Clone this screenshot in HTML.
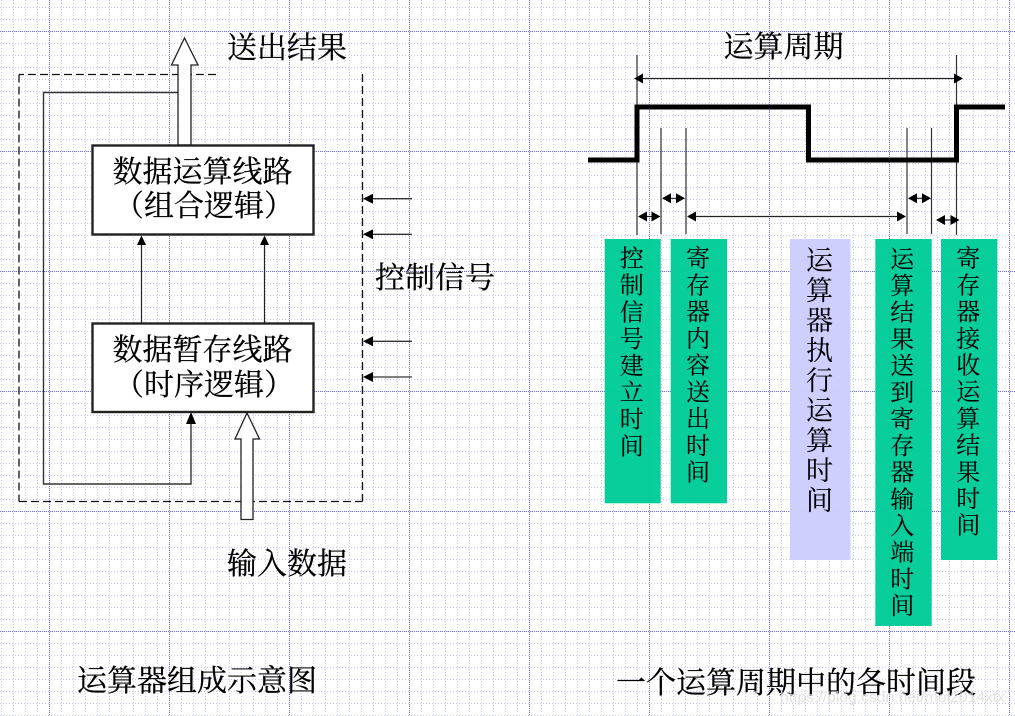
<!DOCTYPE html>
<html>
<head>
<meta charset="utf-8">
<style>
html,body{margin:0;padding:0;background:#fff;width:1015px;height:716px;overflow:hidden}
svg{display:block}
text{font-family:"Liberation Serif","Noto Serif CJK SC",serif;fill:#000;stroke:#000;stroke-width:.25}
.col text{stroke-width:.1}
</style>
</head>
<body>
<svg width="1015" height="716" viewBox="0 0 1015 716" xmlns="http://www.w3.org/2000/svg">
<defs>
<pattern id="minor" patternUnits="userSpaceOnUse" width="12" height="12">
<path d="M0 7.5H12M1.5 0V12" stroke="#c9c9e6" stroke-width="1" stroke-dasharray="1 2" fill="none"/>
</pattern>
<pattern id="major" patternUnits="userSpaceOnUse" width="120" height="120">
<path d="M0 31.5H120M49.5 0V120" stroke="#7272d4" stroke-width="1" stroke-dasharray="1 1" fill="none"/>
</pattern>
</defs>
<rect width="1015" height="716" fill="#fff"/>
<rect width="1015" height="716" fill="url(#minor)"/>
<rect width="1015" height="716" fill="url(#major)"/>

<!-- left diagram -->
<g fill="none" stroke="#111" stroke-width="1.3" stroke-dasharray="8 4">
<path d="M216 74.5H19"/>
<path d="M19 74.5V501.5"/>
<path d="M19 501.5H362.5"/>
<path d="M362.5 74V501.5"/>
</g>
<path d="M178 92.5H43.5V484H191V420" fill="none" stroke="#333" stroke-width="1.4"/>
<path d="M191 412L196 424H186Z" fill="#000"/>
<path d="M184.5 38L198 65H191V145H178V65H171.5Z" fill="#fff" stroke="#222" stroke-width="1.3"/>
<path d="M247 413L259.5 439H253V519.5H241V439H235Z" fill="#fff" stroke="#222" stroke-width="1.3"/>
<rect x="92.5" y="145.5" width="221" height="89" fill="#fff" stroke="#222" stroke-width="2.4"/>
<rect x="92.5" y="323.5" width="221" height="88.5" fill="#fff" stroke="#222" stroke-width="2.4"/>
<path d="M141.5 323V244M264.5 323V244" stroke="#222" stroke-width="1.2" fill="none"/>
<path d="M141.5 235.5L146 245H137Z M264.5 235.5L269 245H260Z" fill="#000"/>
<path d="M412 198.7H372M412 234.3H372M412 341.3H372M412 377H372" stroke="#333" stroke-width="1.3" fill="none"/>
<path d="M363 198.7L373 193.7V203.7Z M363 234.3L373 229.3V239.3Z M363 341.3L373 336.3V346.3Z M363 377L373 372V382Z" fill="#000"/>

<g font-size="30">
<text x="227" y="58">送出结果</text>
<text x="112.5" y="182">数据运算线路</text>
<text x="114" y="216">（组合逻辑）</text>
<text x="112.5" y="360">数据暂存线路</text>
<text x="114" y="395">（时序逻辑）</text>
<text x="375" y="288">控制信号</text>
<text x="227" y="574">输入数据</text>
<text x="77" y="691">运算器组成示意图</text>
<text x="723.5" y="57">运算周期</text>
<text x="616" y="693">一个运算周期中的各时间段</text>
</g>

<!-- timing -->
<path d="M637 55V235M956.5 55V235M661 128V234M686 128V234M907 128V234M931.5 128V234" stroke="#333" stroke-width="1.2" fill="none"/>
<path d="M588 160H637V107H808.5V160H956.5V107H1005" fill="none" stroke="#000" stroke-width="5"/>
<g stroke="#222" stroke-width="1.2" fill="none">
<path d="M640 78.5H958"/>
<path d="M665 198.3H682"/>
<path d="M641 216.5H657"/>
<path d="M690 216.5H902"/>
<path d="M911 198.3H927"/>
<path d="M940 220H956"/>
</g>
<g fill="#000">
<path d="M634 78.5L643 73.5V83.5Z M963 78.5L954 73.5V83.5Z"/>
<path d="M662 198.3L671 193.3V203.3Z M685 198.3L676 193.3V203.3Z"/>
<path d="M638 216.5L647 211.5V221.5Z M660.5 216.5L651.5 211.5V221.5Z"/>
<path d="M687 216.5L696 211.5V221.5Z M906 216.5L897 211.5V221.5Z"/>
<path d="M908 198.3L917 193.3V203.3Z M931 198.3L922 193.3V203.3Z"/>
<path d="M936 220L945 215V225Z M959.5 220L950.5 215V225Z"/>
</g>

<!-- coloured bars -->
<g fill-opacity="0.97">
<rect x="604.7" y="239" width="56" height="264.3" fill="#00CC99"/>
<rect x="670.7" y="239" width="56.3" height="264.3" fill="#00CC99"/>
<rect x="790" y="239" width="60.5" height="321" fill="#CCCCFF"/>
<rect x="875.3" y="239" width="56.4" height="387" fill="#00CC99"/>
<rect x="941" y="239" width="56.3" height="321" fill="#00CC99"/>
</g>
<g class="col" text-anchor="middle">
<text font-size="24" x="631.7 631.7 631.7 631.7 631.7 631.7 631.7 631.7" y="266.7 293.5 320.3 347.1 373.9 400.7 427.5 454.3">控制信号建立时间</text>
<text font-size="24" x="698 698 698 698 698 698 698 698 698" y="266.7 293.5 320.2 347 373.7 400.5 427.2 454 480.7">寄存器内容送出时间</text>
<text font-size="27" x="819.5 819.5 819.5 819.5 819.5 819.5 819.5 819.5 819.5" y="270 300 330 360 390 420 450 480 510">运算器执行运算时间</text>
<text font-size="24" x="902.3 902.3 902.3 902.3 902.3 902.3 902.3 902.3 902.3 902.3 902.3 902.3 902.3 902.3" y="267.3 294 320.7 347.3 374 400.7 427.3 454 480.7 507.3 534 560.7 587.3 614">运算结果送到寄存器输入端时间</text>
<text font-size="24" x="968.3 968.3 968.3 968.3 968.3 968.3 968.3 968.3 968.3 968.3 968.3" y="266.7 293.4 320.1 346.8 373.5 400.2 426.9 453.6 480.3 507 533.7">寄存器接收运算结果时间</text>
</g>
<text x="780" y="702" font-size="15" textLength="225" lengthAdjust="spacingAndGlyphs" style="font-family:'Liberation Sans',sans-serif;fill:#d8d8d8;fill-opacity:.75;stroke:none">https://blog.csdn.net/mol2014xtx</text>
</svg>
</body>
</html>
